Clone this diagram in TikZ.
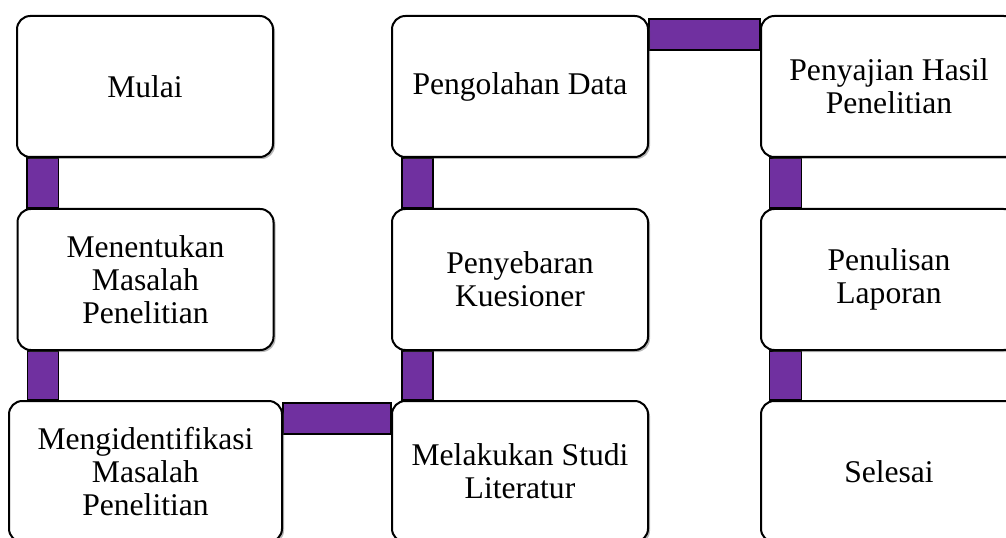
\documentclass[tikz,border=0pt]{standalone}
\usepackage{fontspec}
\setmainfont{Liberation Serif}
\usetikzlibrary{shadows,backgrounds}
\definecolor{ungu}{RGB}{112,48,160}
\begin{document}
\begin{tikzpicture}[x=0.75pt,y=-0.75pt]
        \tikzstyle{tahap}=[rectangle,rounded corners=10pt,draw=black,line width=1.5pt,fill=white,
          minimum width=192pt,minimum height=105.75pt,align=center,inner sep=2pt,
          font=\fontsize{23.7}{24.8}\selectfont,
          drop shadow={shadow xshift=1.5pt,shadow yshift=-1.5pt,opacity=0.4,fill=black!70}]
        \tikzstyle{bar}=[draw=black,line width=1.2pt,fill=ungu]
        \useasboundingbox (0,0) rectangle (1006,538);
       \begin{scope}
         \node [tahap] (mulai) at (145,86.5) {Mulai};
         \node [tahap] (menentukan) at (145.5,279.5) {Menentukan\\Masalah\\Penelitian};
         \node [tahap,minimum width=204.75pt] (identifikasi) at (145.5,471.5) {Mengidentifikasi\\Masalah\\Penelitian};
         \node [tahap] (studi) at (520,471.5) {Melakukan Studi\\Literatur};
         \node [tahap] (kuesioner) at (520,279.5) {Penyebaran\\Kuesioner};
         \node [tahap] (olah) at (520,86.5) {Pengolahan Data};
         \node [tahap] (sajian) at (889,86.5) {Penyajian Hasil\\Penelitian};
         \node [tahap] (laporan) at (889,279.5) {Penulisan\\Laporan};
         \node [tahap] (selesai) at (889,471.5) {Selesai};
        \end{scope}
        \begin{pgfonlayer}{background}
         \path[bar] ([xshift=8.25pt]mulai.south west) rectangle ([xshift=31.5pt]menentukan.north west);
         \path[bar] ([xshift=8.25pt]menentukan.south west) rectangle ([xshift=31.5pt]menentukan.south west |- identifikasi.north);
         \path[bar] ([yshift=-2.25pt]identifikasi.north east) rectangle ([yshift=-25.5pt]studi.north west);
         \path[bar] ([xshift=8.25pt]kuesioner.south west) rectangle ([xshift=31.5pt]studi.north west);
         \path[bar] ([xshift=8.25pt]olah.south west) rectangle ([xshift=31.5pt]kuesioner.north west);
         \path[bar] ([yshift=-3pt]olah.north east) rectangle ([yshift=-26.25pt]sajian.north west);
         \path[bar] ([xshift=7pt]sajian.south west) rectangle ([xshift=31pt]laporan.north west);
         \path[bar] ([xshift=7pt]laporan.south west) rectangle ([xshift=31pt]selesai.north west);
        \end{pgfonlayer}
      \end{tikzpicture}
\end{document}
